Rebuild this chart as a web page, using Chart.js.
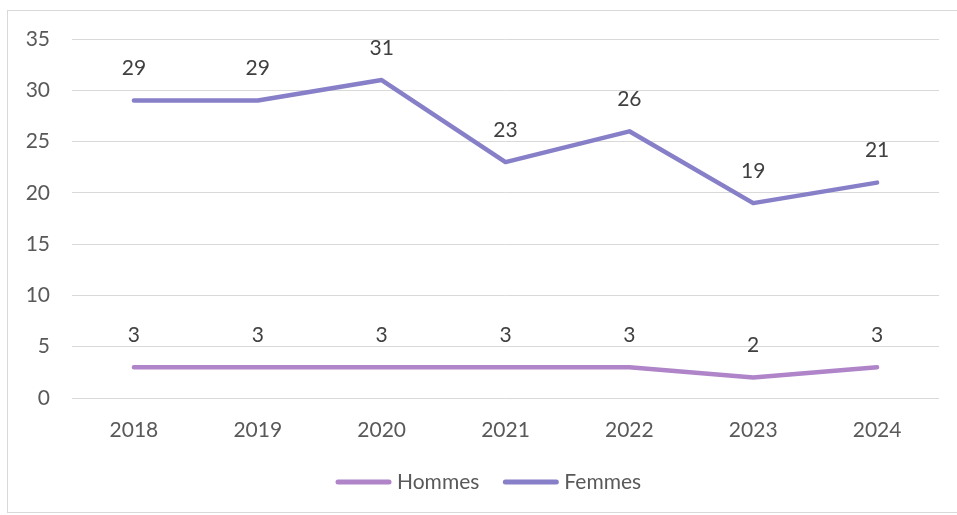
<!DOCTYPE html>
<html>
<head>
<meta charset="utf-8">
<script src="https://cdn.jsdelivr.net/npm/chart.js@4"></script>
<style>
  html, body { margin: 0; padding: 0; background: #ffffff; }
  #wrap { position: relative; width: 957px; height: 515px; }
</style>
</head>
<body>
<div id="wrap"><canvas id="c" width="957" height="515"></canvas></div>
<script>
const years = ['2018', '2019', '2020', '2021', '2022', '2023', '2024'];
const hommes = [3, 3, 3, 3, 3, 2, 3];
const femmes = [29, 29, 31, 23, 26, 19, 21];
const yTicks = [0, 5, 10, 15, 20, 25, 30, 35];

const FONT = 'Lato, "Open Sans", sans-serif';
const FONT_SIZE = 21;

// Thin frame around the whole chart area
const framePlugin = {
  id: 'frame',
  beforeDraw(chart) {
    const ctx = chart.ctx;
    ctx.save();
    ctx.strokeStyle = '#d9d9d9';
    ctx.lineWidth = 1;
    ctx.strokeRect(7.5, 10.5, 960, 502);
    ctx.restore();
  }
};

// Value labels above every point
const valueLabels = {
  id: 'valueLabels',
  afterDatasetsDraw(chart) {
    const ctx = chart.ctx;
    ctx.save();
    ctx.font = FONT_SIZE + 'px ' + FONT;
    ctx.fillStyle = '#404040';
    ctx.textAlign = 'center';
    ctx.textBaseline = 'middle';
    chart.data.datasets.forEach((ds, i) => {
      const meta = chart.getDatasetMeta(i);
      meta.data.forEach((pt, j) => {
        ctx.fillText(String(ds.data[j]), pt.x, pt.y - 32);
      });
    });
    ctx.restore();
  }
};

// Bottom legend: short rounded line swatch followed by the series name
const lineLegend = {
  id: 'lineLegend',
  afterDraw(chart) {
    const ctx = chart.ctx;
    const y = 482;
    const swatch = 51;
    const gapText = 8;
    const gapItem = 26;
    ctx.save();
    ctx.font = FONT_SIZE + 'px ' + FONT;
    ctx.textBaseline = 'middle';
    ctx.textAlign = 'left';
    const items = chart.data.datasets.map(ds => ({
      text: ds.label,
      color: ds.borderColor,
      w: ctx.measureText(ds.label).width
    }));
    let x = 338;
    items.forEach(it => {
      ctx.strokeStyle = it.color;
      ctx.lineWidth = 5;
      ctx.lineCap = 'round';
      ctx.beginPath();
      ctx.moveTo(x, y);
      ctx.lineTo(x + swatch, y);
      ctx.stroke();
      ctx.fillStyle = '#595959';
      ctx.fillText(it.text, x + swatch + gapText, y);
      x += swatch + gapText + it.w + gapItem;
    });
    ctx.restore();
  }
};

new Chart(document.getElementById('c'), {
  type: 'line',
  data: {
    labels: years,
    datasets: [
      {
        label: 'Hommes',
        data: hommes,
        borderColor: '#b084c8',
        backgroundColor: '#b084c8',
        borderWidth: 4.5,
        borderCapStyle: 'round',
        borderJoinStyle: 'round',
        pointRadius: 0,
        pointHoverRadius: 0,
        tension: 0
      },
      {
        label: 'Femmes',
        data: femmes,
        borderColor: '#8780c8',
        backgroundColor: '#8780c8',
        borderWidth: 4.5,
        borderCapStyle: 'round',
        borderJoinStyle: 'round',
        pointRadius: 0,
        pointHoverRadius: 0,
        tension: 0
      }
    ]
  },
  options: {
    responsive: false,
    animation: false,
    events: [],
    layout: { padding: { top: 39, right: 18, bottom: 67, left: 0 } },
    plugins: {
      tooltip: { enabled: false },
      legend: { display: false }
    },
    scales: {
      x: {
        offset: true,
        grid: { display: false, drawTicks: false },
        border: { display: false },
        ticks: {
          font: { family: FONT, size: FONT_SIZE },
          color: '#595959',
          padding: 20
        },
        afterFit(scale) { scale.height = 50; }
      },
      y: {
        min: 0,
        max: 35,
        afterBuildTicks(scale) { scale.ticks = yTicks.map(v => ({ value: v })); },
        grid: { color: '#d9d9d9', lineWidth: 1, drawTicks: false },
        border: { display: false },
        ticks: {
          font: { family: FONT, size: FONT_SIZE },
          color: '#595959',
          padding: 22
        },
        afterFit(scale) { scale.width = 72; }
      }
    }
  },
  plugins: [framePlugin, valueLabels, lineLegend]
});
</script>
</body>
</html>
